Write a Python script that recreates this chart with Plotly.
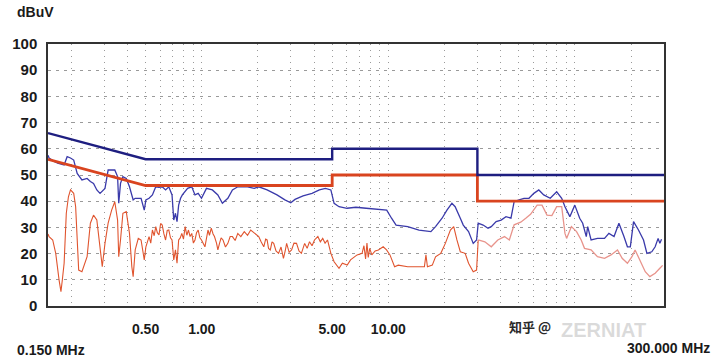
import numpy as np
import plotly.graph_objects as go

# ---- data ----
peak_f = [0.15, 0.152, 0.159, 0.169, 0.183, 0.19, 0.198, 0.206, 0.215, 0.228, 0.243, 0.253, 0.263, 0.274,
          0.285, 0.303, 0.315, 0.342, 0.354, 0.359, 0.367, 0.378, 0.394, 0.41, 0.429, 0.44, 0.473, 0.492,
          0.502, 0.522, 0.544, 0.567, 0.59, 0.614, 0.64, 0.666, 0.693, 0.708, 0.723, 0.737, 0.752, 0.77,
          0.787, 0.84, 0.884, 0.92, 0.957, 0.997, 1.06, 1.14, 1.22, 1.29, 1.38, 1.46, 1.56, 1.76, 1.91,
          2.02, 2.24, 2.53, 2.79, 3.0, 3.16, 3.49, 3.9, 4.27, 4.6, 4.92, 5.12, 5.44, 6.0, 6.7, 7.6, 8.8,
          9.8, 10.4, 11.0, 12.7, 14.6, 16.9, 17.9, 19.4, 20.6, 21.9, 22.8, 24.3, 25.2, 26.9, 28.5, 29.7,
          30.3, 32.2, 34.2, 35.6, 37.8, 40.2, 42.7, 45.4, 47.2, 50.2, 53.3, 56.7, 60.2, 64, 68, 73.7,
          79.8, 84.9, 88.4, 93.9, 99.8, 106, 110, 115, 117, 122, 132, 144, 152, 162, 172, 183, 191, 198,
          206, 219, 233, 243, 258, 269, 279, 285, 291]
peak_v = [57.5, 56.5, 55.5, 54.5, 53.8, 57.0, 56.5, 55.7, 50.6, 48.1, 48.7, 47.5, 46.8, 44.3,
          43.0, 44.9, 51.9, 51.9, 49.4, 39.2, 46.8, 49.4, 48.7, 45.5, 40.5, 41.1, 41.1, 36.6,
          40.5, 41.1, 42.4, 45.5, 45.3, 45.5, 44.3, 45.5, 42.4, 32.8, 35.4, 32.2, 38.5, 41.1,
          42.4, 44.9, 45.5, 42.4, 43.0, 41.1, 44.9, 44.3, 42.4, 39.2, 41.1, 44.3, 45.5, 45.5, 44.9,
          45.5, 44.3, 42.4, 40.5, 39.4, 40.7, 42.0, 43.0, 44.3, 44.9, 44.3, 39.2, 37.9, 37.3, 37.7, 37.3, 37.0,
          36.6, 33.5, 30.9, 30.3, 29.0, 28.4, 30.3, 33.5, 36.6, 39.2, 37.9, 33.5, 30.9, 28.4, 23.9, 25.2,
          31.6, 30.9, 29.7, 30.3, 32.2, 32.8, 34.1, 33.5, 39.8, 40.5, 41.1, 41.1, 43.0, 44.3, 42.4, 41.1,
          43.6, 41.1, 37.9, 34.1, 38.5, 33.5, 31.6, 26.5, 30.3, 25.2, 25.8, 25.8, 27.7, 26.5, 31.6, 26.5, 22.6, 22.6,
          32.2, 29.0, 25.2, 20.1, 20.7, 22.6, 25.8, 23.9, 25.5]

avg_f = [0.15, 0.152, 0.159, 0.165, 0.172, 0.176, 0.179, 0.183, 0.188, 0.193, 0.198, 0.206, 0.211, 0.215,
         0.219, 0.228, 0.243, 0.253, 0.263, 0.274, 0.285, 0.293, 0.303, 0.315, 0.329, 0.342, 0.354,
         0.359, 0.367, 0.378, 0.394, 0.41, 0.422, 0.429, 0.44, 0.457, 0.473, 0.492, 0.502, 0.522, 0.533,
         0.544, 0.556, 0.567, 0.578, 0.59, 0.602, 0.614, 0.627, 0.64, 0.653, 0.666, 0.68, 0.693, 0.708,
         0.723, 0.737, 0.752, 0.767, 0.782, 0.798, 0.815, 0.832, 0.849, 0.866, 0.884, 0.902, 0.92, 0.938,
         0.957, 0.977, 0.997, 1.04, 1.06, 1.08, 1.1, 1.125, 1.15, 1.17, 1.2, 1.22, 1.245, 1.27, 1.30,
         1.34, 1.38, 1.42, 1.46, 1.51, 1.56, 1.62, 1.69, 1.76, 1.83, 1.94, 2.02, 2.08, 2.15, 2.2, 2.24,
         2.28, 2.33, 2.38, 2.43, 2.5, 2.58, 2.66, 2.74, 2.8, 2.85, 2.94, 3.03, 3.12, 3.22, 3.32, 3.42,
         3.56, 3.67, 3.78, 3.9, 4.02, 4.19, 4.32, 4.45, 4.58, 4.72, 4.92, 5.12, 5.44, 5.67, 6.02, 6.27,
         6.8, 7.23, 7.4, 7.55, 7.68, 7.8, 7.95, 8.15, 8.5, 8.84, 9.38, 9.78, 10.2, 10.8, 11.3, 12.7,
         14.4, 15.6, 15.9, 16.2, 17.2, 17.9, 19.1, 20.2, 21.5, 22.4, 23.3, 24.3, 25.8, 26.9, 28.5, 29.7,
         30.3, 32.9, 35.6, 38.6, 41.9, 44.5, 47.2, 51.2, 54.5, 57.8, 62.7, 66.6, 70.8, 75.2, 79.8, 84.9,
         88.4, 90.2, 95.7, 102, 108, 112.5, 122, 132, 144, 156, 169, 179, 191, 202, 210, 224, 238, 252,
         269, 285, 295]
avg_v = [27.5, 26.5, 25.2, 20.1, 9.9, 5.5, 9.9, 16.3, 35.4, 41.7, 44.3, 43.0, 37.9, 22.6,
         13.7, 13.1, 18.8, 31.6, 34.7, 32.8, 22.6, 15.0, 23.9, 31.6, 36.6, 39.8, 32.8,
         18.8, 25.2, 35.4, 36.0, 27.7, 15.0, 11.2, 21.4, 25.8, 25.2, 17.6, 22.6, 26.5, 24.0,
         29.0, 26.8, 30.3, 28.0, 27.1, 31.5, 30.9, 27.5, 25.2, 28.8, 29.0, 26.0, 25.2, 17.6,
         21.4, 16.3, 25.2, 26.0, 27.7, 25.5, 30.3, 27.0, 29.0, 26.5, 27.7, 24.0, 25.2, 28.0,
         29.0, 26.0, 25.2, 22.6, 26.5, 29.0, 27.0, 29.7, 27.5, 26.5, 24.0, 21.4, 23.9, 26.0, 25.2,
         22.5, 23.9, 26.5, 26.5, 25.0, 27.7, 26.5, 28.4, 27.0, 29.0, 27.7, 26.5, 24.5, 22.6, 25.5, 25.2,
         22.0, 21.4, 24.5, 23.9, 21.0, 20.1, 22.5, 18.2, 21.0, 23.9, 20.5, 21.4, 24.0, 23.9, 21.0, 20.1,
         23.9, 22.0, 24.5, 23.0, 25.2, 26.5, 24.5, 25.8, 24.0, 25.2, 20.1, 16.9, 14.4, 16.3, 15.6, 17.6,
         19.5, 20.1, 23.0, 18.0, 24.0, 18.5, 22.0, 19.5, 21.0, 21.4, 22.6, 21.4, 19.5, 15.0, 15.6, 15.0,
         15.0, 15.0, 19.5, 15.0, 15.6, 18.8, 20.1, 23.9, 29.0, 30.3, 25.2, 20.7, 20.1, 16.3, 13.1, 13.7,
         25.2, 24.5, 22.6, 25.2, 26.5, 25.2, 31.0, 32.0, 33.5, 35.0, 38.5, 38.5, 34.7, 34.5, 37.9, 37.9,
         27.7, 25.8, 30.3, 28.4, 25.2, 22.0, 21.4, 18.8, 18.2, 19.5, 21.4, 18.2, 16.3, 18.8, 21.4, 16.9, 13.1, 11.2,
         12.5, 14.4, 15.5]

limit_f = [0.15, 0.5, 5, 5, 30, 30, 300]
limit_qp = [66, 56, 56, 60, 60, 50, 50]
limit_av = [56, 46, 46, 50, 50, 40, 40]

grid_f = [0.2, 0.3, 0.4, 0.5, 0.6, 0.7, 0.8, 0.9, 1, 2, 3, 4, 5, 6, 7, 8, 9, 10,
          20, 30, 40, 50, 60, 70, 80, 90, 100, 200, 300]
label_map = {0.5: "0.50", 1: "1.00", 5: "5.00", 10: "10.00"}
y_ticks = [0, 10, 20, 30, 40, 50, 60, 70, 80, 90, 100]

# ---- figure ----
fig = go.Figure()

split = 30.3
lo_f = [f for f in avg_f if f <= split]
lo_v = [v for f, v in zip(avg_f, avg_v) if f <= split]
hi_f = [f for f in avg_f if f >= split]
hi_v = [v for f, v in zip(avg_f, avg_v) if f >= split]

fig.add_trace(go.Scatter(x=lo_f, y=lo_v, mode="lines",
                         line=dict(color="#e0542e", width=1.1), showlegend=False))
fig.add_trace(go.Scatter(x=[lo_f[-1]] + hi_f, y=[lo_v[-1]] + hi_v, mode="lines",
                         line=dict(color="#e8948c", width=1.3), showlegend=False))
fig.add_trace(go.Scatter(x=peak_f, y=peak_v, mode="lines",
                         line=dict(color="#3a3aaa", width=1.3), showlegend=False))
fig.add_trace(go.Scatter(x=limit_f, y=limit_av, mode="lines",
                         line=dict(color="#d9441f", width=2.8), showlegend=False))
fig.add_trace(go.Scatter(x=limit_f, y=limit_qp, mode="lines",
                         line=dict(color="#1e1e80", width=2.4), showlegend=False))

fig.update_layout(
    width=720, height=359,
    margin=dict(l=37, r=56, t=44, b=53),
    paper_bgcolor="white", plot_bgcolor="white",
    showlegend=False,
    font=dict(family="Liberation Sans, Arial, sans-serif", color="#1a1a1a"),
)

fig.update_xaxes(
    type="log", range=[np.log10(0.15), np.log10(300)],
    tickmode="array", tickvals=grid_f,
    ticktext=[label_map.get(g, "") for g in grid_f],
    tickfont=dict(size=14, weight="bold", color="#1a1a1a"),
    ticks="", ticklabelstandoff=9,
    showgrid=True, gridcolor="#9a9a9a", gridwidth=1, griddash="1px,5px",
    showline=True, mirror=True, linecolor="#333333", linewidth=1.5,
    zeroline=False,
)
fig.update_yaxes(
    range=[0, 100], tickmode="array", tickvals=y_ticks,
    tickfont=dict(size=15, weight="bold", color="#1a1a1a"),
    ticks="", ticklabelstandoff=6,
    showgrid=True, gridcolor="#9a9a9a", gridwidth=1, griddash="3px,5px",
    showline=True, mirror=True, linecolor="#333333", linewidth=1.5,
    zeroline=False,
)

fig.add_annotation(text="dBuV", xref="paper", yref="paper", x=-0.054, y=1.122,
                   xanchor="left", yanchor="middle", showarrow=False,
                   font=dict(size=14, weight="bold", color="#1a1a1a"))
fig.add_annotation(text="0.150 MHz", xref="paper", yref="paper", x=-0.054, y=-0.168,
                   xanchor="left", yanchor="middle", showarrow=False,
                   font=dict(size=14, weight="bold", color="#1a1a1a"))
fig.add_annotation(text="300.000 MHz", xref="paper", yref="paper", x=1.078, y=-0.16,
                   xanchor="right", yanchor="middle", showarrow=False,
                   font=dict(size=14, weight="bold", color="#1a1a1a"))
fig.add_annotation(text="知乎 @", xref="paper", yref="paper", x=0.745, y=-0.077,
                   xanchor="left", yanchor="middle", showarrow=False,
                   font=dict(size=13, weight="bold", color="#2a2a2a",
                             family="Noto Sans CJK SC, sans-serif"))
fig.add_annotation(text="ZERNIAT", xref="paper", yref="paper", x=0.83, y=-0.09,
                   xanchor="left", yanchor="middle", showarrow=False,
                   font=dict(size=20, weight="bold", color="rgba(150,150,150,0.35)"))

fig.write_html("out.html")
